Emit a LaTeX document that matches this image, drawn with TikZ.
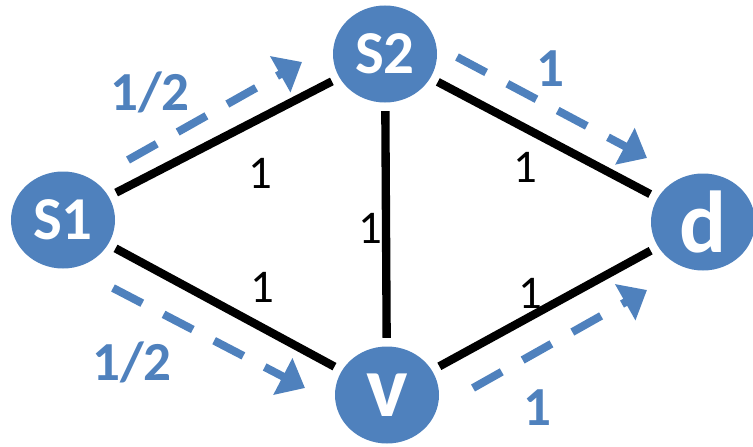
\documentclass[tikz,border=0pt]{standalone}
\usepackage{fontspec}
\setmainfont{Carlito}
\definecolor{NodeBlue}{HTML}{4F81BD}
\usetikzlibrary{arrows.meta,shapes.geometric}
\tikzset{
  vertexNode/.style={ellipse, fill=NodeBlue, text=white, minimum width=3.12cm, minimum height=2.91cm, inner sep=0pt, font=\fontsize{75}{75}\selectfont\bfseries},
  smallVertex/.style={font=\fontsize{52}{52}\selectfont\bfseries},
  linkEdge/.style={draw=black, line width=0.25cm, shorten <=0.25cm, shorten >=0.25cm},
  flowEdge/.style={-{Triangle[length=0.75cm,width=1.2cm]}, draw=NodeBlue, line width=0.24cm, dash pattern=on 0.99cm off 0.72cm},
  capLabel/.style={font=\fontsize{40}{40}\selectfont, text=black, inner sep=0pt},
  flowLabel/.style={font=\fontsize{47}{47}\selectfont\bfseries, text=NodeBlue, inner sep=0pt}
}

\begin{document}
\begin{tikzpicture}[x=0.03cm, y=-0.03cm]
\useasboundingbox (0,0) rectangle (753,446);

% vertices
\node[vertexNode, smallVertex] (s1) at (63,220) {S1};
\node[vertexNode, smallVertex] (s2) at (385,54) {S2};
\node[vertexNode] (d) at (703,222) {d};
\node[vertexNode] (v) at (387,395) {v};

% links
\draw[linkEdge] (s1) -- (s2);
\draw[linkEdge] (s1) -- (v);
\draw[linkEdge] (s2) -- (v);
\draw[linkEdge] (s2) -- (d);
\draw[linkEdge] (v) -- (d);

\node[capLabel] (c12) at (260,173) {1};
\node[capLabel] (c1v) at (262,287) {1};
\node[capLabel] (c2v) at (370,228) {1};
\node[capLabel] (c2d) at (525,167) {1};
\node[capLabel] (cvd) at (530,293) {1};

% flows
\coordinate (fAs) at (128,160);
\coordinate (fAe) at (302,62);
\coordinate (fBs) at (457,57);
\coordinate (fBe) at (647,158);
\coordinate (fCs) at (113,288);
\coordinate (fCe) at (305,388);
\coordinate (fDs) at (473,388);
\coordinate (fDe) at (647,290);

\draw[flowEdge] (fAs) -- (fAe);
\draw[flowEdge] (fBs) -- (fBe);
\draw[flowEdge] (fCs) -- (fCe);
\draw[flowEdge] (fDs) -- (fDe);

\node[flowLabel] (lA) at (150,92) {1/2};
\node[flowLabel] (lB) at (550,69) {1};
\node[flowLabel] (lC) at (132,362) {1/2};
\node[flowLabel] (lD) at (537,408) {1};
\end{tikzpicture}
\end{document}
